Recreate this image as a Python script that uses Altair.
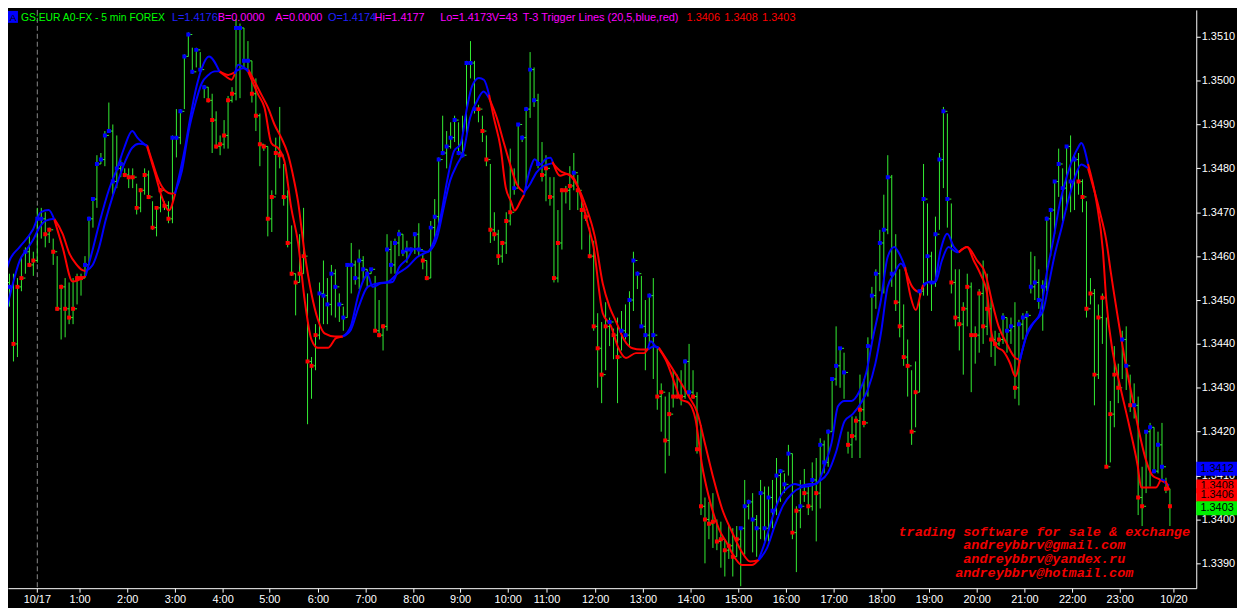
import altair as alt
import pandas as pd
from bisect import bisect_right

BASE = 1.3390  # all *_pips values are pips above 1.3390

# ---------------- OHLC bars (5 min), pips above 1.3390 ----------------
high_pips = [79, 67.5, 66, 66, 65, 70, 72, 75, 71, 81,
             81, 80, 76.5, 74, 70, 63.5, 65, 64, 65, 66,
             66, 70, 79, 83, 93, 93.5, 98.5, 105, 100, 97.5,
             92, 90, 90, 90, 86.5, 85.5, 90, 89.5, 82.5, 81,
             85.5, 82.5, 82.5, 97.5, 103.5, 103.5, 116, 121, 117.5, 117.5,
             116.5, 109, 108.5, 107, 103, 97.5, 101, 106.5, 108.5, 124,
             123, 122, 119, 114.5, 110.5, 102.5, 95.5, 95, 85, 97,
             104, 91, 85, 77, 66, 75, 81, 61.5, 47, 54.5,
             64, 69, 65, 68, 67, 61.5, 58.5, 68, 73, 69,
             71.5, 70, 67, 67, 65.5, 60, 54.5, 75, 73.5, 74,
             76, 75, 73.5, 72, 75.5, 77.5, 70.5, 69, 78, 83,
             92.5, 102, 98.5, 100.5, 102, 100.5, 102, 114.5, 119, 114.5,
             104.5, 102, 97.5, 91, 80, 76, 73.5, 80, 94.5, 90,
             100, 97.5, 104, 116.5, 113, 107, 96, 93, 88, 88,
             80.5, 85.5, 86, 90.5, 93.5, 88.5, 82.5, 80, 76.5, 73.5,
             57, 55, 59.5, 56, 53.5, 56, 57.5, 59, 62, 71,
             66.5, 65.5, 60, 61.5, 65, 49.5, 41, 38, 39, 44,
             43, 44, 46.5, 50, 44, 39, 31.5, 15, 14, 16,
             10, 9.5, 5.5, 8.5, 8, 8.5, 8, 19, 14.5, 16,
             11, 19, 17.5, 17.5, 19, 24, 21.5, 20.5, 27, 25,
             13, 19, 21.5, 17.5, 23, 24, 28.5, 28, 30.5, 42,
             54, 49, 48, 30, 33.5, 33.5, 43, 42, 51.5, 63,
             67, 76, 84, 93, 88.5, 75, 67, 59, 51, 44,
             46, 62, 91, 82, 71, 79, 93.5, 104, 102.5, 82,
             67, 67, 59.5, 66, 64, 54, 62.5, 69, 66, 60.5,
             53, 52.5, 57, 56, 56, 59.5, 55.5, 57, 57.5, 71,
             70, 67, 64.5, 79, 81, 87, 94.5, 90, 95, 97.5,
             93, 93.5, 87.5, 82.5, 65, 62.5, 59, 61.5, 56, 37,
             49.5, 45.5, 53, 54, 43, 41, 38, 22, 30, 32,
             31, 30, 32, 19.5, 17]

low_pips = [66, 62.5, 58.5, 46, 47, 62, 66, 67.5, 65.5, 68.5,
            74, 72, 73, 68, 57.5, 51, 51.5, 54.5, 54.5, 59,
            61, 65, 68, 76.5, 81, 91, 90.5, 98.5, 84, 85.5,
            88, 88, 85.5, 85.5, 79.5, 80, 84, 83, 76, 74.5,
            80, 80.5, 77.5, 77.5, 92.5, 95.5, 103.5, 115.5, 111.5, 113,
            112, 106, 105, 93.5, 94.5, 93, 94.5, 94.5, 105, 105.5,
            106, 113, 112.5, 105, 98.5, 90.5, 94, 74.5, 75.5, 84,
            90, 81.5, 72, 65.5, 56.5, 64, 66, 31.7, 37.5, 44,
            51, 54.5, 54.5, 56.5, 56, 55, 53, 56, 61.5, 63.5,
            62.5, 64.5, 63, 66, 53, 51.5, 48.5, 53, 66, 66,
            70, 70, 68.5, 71, 70.5, 70, 67, 64.5, 65, 73.5,
            76, 93, 90, 94.5, 96, 93, 92.5, 96.5, 110.5, 102.5,
            100.5, 96, 90.5, 73, 73.5, 68, 68.5, 70.5, 77, 84,
            85.5, 96, 85, 101.5, 104, 90, 87, 82.5, 81.5, 64,
            64, 71.5, 82, 80.5, 85, 80.5, 71.5, 78, 69.5, 53,
            40, 36.5, 44, 49.5, 46.5, 36.5, 48.5, 51, 49.5, 57.5,
            62.5, 54, 44, 50, 42, 35, 30, 20.5, 24.5, 35.5,
            37.5, 36, 37.5, 38, 37.5, 25, 11, 0, 5.5, 3.5,
            3, -1, -3, 1, -3, 1.5, -5.2, 2, 10, 2.5,
            1.5, 5.5, 5, 5, 8, 11, 14, 16, 20, 5.5,
            -2, 8, 14, 11, 12, 5, 12.5, 20.5, 22, 30,
            40.5, 40, 37.5, 25, 24, 28, 24, 31, 38, 51,
            58, 62, 61.5, 75, 63, 57.5, 51.5, 45, 38, 27,
            31, 39, 61, 61, 57.5, 63, 76, 85.5, 76.5, 61.5,
            54, 48.5, 43, 54, 39, 45.5, 48, 50, 52, 47,
            45, 49.5, 50, 48, 50, 37.5, 36, 51, 52, 61.5,
            60, 58, 53, 62, 70, 75, 83.5, 78, 80.5, 80,
            80.5, 84, 80, 56, 59, 36, 42, 50, 22, 23,
            31, 36.5, 42, 39.5, 34.5, 33, 11, 8.5, 16, 17.5,
            20.5, 20.5, 19, 16, 8.5]

close_pips = [66, 64, 63, 50, 63, 65, 71, 68, 69, 78.5,
              78.5, 75, 76, 71, 58, 63, 58, 56, 58, 65,
              65, 68, 78.5, 83, 91, 92, 97.5, 98.5, 87, 90,
              91, 88.5, 88, 88, 81, 85, 88.5, 83.5, 76.5, 81,
              85, 81.5, 78.5, 97, 97, 103, 115.5, 120.5, 112, 117,
              112.5, 108.5, 105.5, 101, 95, 95.5, 97.5, 105.5, 107, 122,
              122, 114.5, 114.5, 107, 102, 95.5, 95, 78.5, 83.5, 93.5,
              93, 83.5, 73, 66, 64, 66, 70, 46, 45, 52,
              61.5, 61, 59, 66, 63, 59, 56, 68, 68, 65,
              69, 67, 66, 67, 53, 52, 54, 71.5, 68, 73,
              75, 71, 71.5, 71.5, 75, 71.5, 69, 65, 76.5, 79,
              92, 93.5, 95, 97, 101, 93.5, 93, 114, 114, 103.5,
              103.5, 98.5, 92, 76, 75, 70, 73, 78, 80, 85.5,
              100, 97, 103.5, 112.5, 105.5, 91, 88.5, 90, 83.5, 65,
              73, 85, 85, 86, 89, 85, 80.5, 79, 70, 54,
              49, 43, 54, 55, 52, 47, 53, 52, 60, 69,
              66, 54, 52, 61, 52, 38, 39, 28, 34, 38,
              38, 38, 46, 39, 38, 26, 13, 10, 9, 9.5,
              5, 5.5, 3, 4, 1.5, 5.5, 8, 13, 14, 10,
              8, 16, 8, 15, 12, 20, 21, 18, 25, 7,
              12, 13, 16, 13, 19, 16, 27, 23, 30, 42,
              45, 49, 43.5, 27, 29, 32.5, 35, 32, 49.5, 61,
              66, 73, 76, 88, 66, 59.5, 54, 47, 45, 30,
              39, 62, 83, 70, 64, 75, 92, 103, 83, 64,
              56, 54.5, 58, 63, 52, 52, 61.5, 54, 58, 51,
              50, 51, 56, 53, 54, 40, 54.5, 56, 56.5, 63,
              64, 60, 63, 78.5, 80.5, 87, 91, 85.5, 95, 87,
              92, 87, 83.5, 58, 61.5, 43, 56, 60.5, 22, 34,
              43, 40, 51, 45, 36, 36, 15, 13, 30, 31,
              21, 27, 22, 17, 13]

# colour of the close marker on each bar (b = blue, r = red)
marker_colors = ("bbb" "rrr" "b" "rr" "bb" "rrrrrrrrrr" "bbbbbbbbbb" "rrrrrrrrrrrr"
                 "bbbbbbbbb" "rrrrrrr" "bbbb" "rrrrrrrrrrrrrrrrr" "bbbbbbbbbbbbbb" "rrr"
                 "bbbbbbbbb" "rr" "bbbbbbbbbbbb" "rrrrrrrrr" "bbbbbbb" "rrrrrrrr" "b"
                 "rrrrrrrr" "b" "rr" "bbbbbbbbb" "rrrrrrr" "bb" "rrrrrrrrrrrr"
                 "bbbbbbbbbbbbb" "rr" "b" "rr" "b" "r" "bbbbbbb" "rrrrr" "bbbbbbb"
                 "rrrrrr" "bbbbbbbb" "rrrrrrrrrrrrr" "bbb" "r" "bbbbbbbbbbbbbbb"
                 "rrrrrrrrrrr" "bb" "r" "b" "rr" "bbbbb" "rr")

# ---------------- T-3 trigger lines (bar index, pips above 1.3390) ----------------
fast_idx = [0, 2, 4.7, 8, 10, 12, 13.4, 15.5, 18, 21.3,
            23, 24.7, 27.2, 29.3, 31, 33, 34.3, 36.75, 38.8, 40.5,
            42.2, 43.8, 46.3, 47.6, 49.2, 50.5, 52.3, 55, 56.5, 58,
            58.8, 59.7, 61.3, 62.2, 64.7, 66.3, 68, 70, 71.3, 73,
            74.75, 76.4, 78.1, 79.75, 82.25, 84.3, 86, 88, 90, 92.25,
            93.5, 95.6, 98.5, 100.2, 102.25, 104, 105.6, 107.25, 109, 110.6,
            112.25, 114, 115.6, 117.25, 118.5, 120.25, 121.5, 122.8, 124, 125.7,
            127, 128.25, 129.25, 130.75, 131.6, 133.25, 134.25, 135.75, 137, 138.25,
            138.8, 140.7, 142.25, 144, 145.75, 147.4, 149.1, 151.4, 153.5, 155.2,
            157.25, 159.75, 161.8, 162.8, 163.5, 164.75, 165.5, 167.25, 169.75, 171,
            173, 174.75, 176.4, 178, 180.6, 182.7, 184.75, 186.4, 188.9, 190.6,
            192.25, 194.3, 196, 198, 199.75, 201.4, 203.5, 205.2, 207.25, 209,
            210.6, 212.25, 214, 216, 217.7, 219.3, 221.4, 223.1, 224.75, 226,
            227.5, 228.9, 230.2, 231.4, 232, 233.5, 234.75, 236.4, 238.1, 239.75,
            241, 243.1, 244.75, 246.4, 248.1, 249.25, 250.5, 252.25, 253.9, 255.2,
            256.4, 258, 259.75, 261.4, 263.1, 264.75, 266.4, 268.1, 269.75, 271,
            271.8, 273.5, 275.6, 277.25, 278.1, 279.75, 281.4, 283.9, 286, 286.9,
            290.6, 291.8, 293, 294]
fast_pips = [61, 68.7, 72.1, 76, 80, 80.5, 78.3, 72, 64.2, 65.5,
             71.3, 77.4, 85.3, 90.2, 94.7, 98.5, 97, 95, 88.7, 83.4,
             80.4, 84.2, 94.7, 101.5, 108.7, 112.8, 115.5, 112, 111, 110.2,
             111.5, 113.6, 112.8, 112, 106.8, 103.8, 95.8, 94.3, 91.7, 81.1,
             73, 60, 51, 49.1, 49.1, 51.3, 51.7, 54, 61.5, 65.7,
             63, 63.8, 64.1, 67.5, 69.4, 71.7, 71.3, 71, 73.6, 78.9,
             87.2, 94, 95.5, 103.8, 108.7, 110.6, 110.2, 106.8, 101.5, 94.7,
             85.6, 82.6, 80.4, 82.6, 84, 90.2, 92.1, 90.9, 92.1, 92.4,
             91.5, 88.3, 88.7, 87.9, 84.1, 78.1, 72, 57, 54, 49.4,
             46.8, 47.9, 47.9, 49, 50.6, 49.4, 49, 46.4, 40.4, 37.4,
             36.6, 32.8, 22.3, 15.5, 7.9, 4.5, 1.1, -0.4, -0.4, 0.8,
             4.9, 11, 15.1, 17.3, 18.1, 17.7, 18.1, 18.1, 22.3, 27.5,
             35.8, 37, 37, 39.2, 43.4, 51, 60, 69.8, 72.1, 70.6,
             67.5, 60.7, 57.7, 61.5, 63.5, 64.1, 63.8, 71.3, 75.1, 72.1,
             70.9, 72.1, 69, 66, 61.5, 52.4, 49.4, 48.3, 45.6, 42.6,
             46.4, 51.7, 54.7, 57, 66, 73.6, 81.9, 87.9, 92.4, 94.7,
             95.8, 91, 82.6, 71.3, 60, 48, 41.1, 31.3, 22.3, 17.3,
             17.3, 19.2, 18.8, 16.6]

slow_idx = [0, 1.3, 3, 4.7, 6.3, 8, 9.7, 11.3, 13.4, 15.5,
            17.2, 18.8, 20.5, 21.3, 23, 24.7, 26.3, 28, 29.7, 31.3,
            33, 34.7, 36.75, 38, 39.7, 41.3, 43, 43.8, 45.5, 47.2,
            48.8, 50.5, 52.2, 53.8, 55, 57.2, 58.8, 60.9, 62.2, 63.8,
            65.5, 67.2, 68.8, 70.5, 72.2, 73.4, 74.75, 76.4, 78.1, 79.75,
            81.4, 84, 86, 88, 90, 92.25, 94.75, 97.25, 99.75, 102.25,
            104.75, 106.4, 108, 109.75, 111.4, 113, 114.75, 116.4, 118, 119.75,
            121.4, 122.8, 124.75, 126.4, 128.1, 129.75, 131.6, 133.1, 134.75, 136.75,
            138.8, 140.7, 143.25, 145.25, 147.25, 149.4, 151.4, 153.1, 154.75, 156.8,
            158.9, 161, 162.8, 164.3, 165.5, 168, 170.6, 173, 175.2, 177.25,
            179.3, 181.4, 183.9, 186.4, 188.5, 190.6, 192.7, 194.75, 196.8, 198.9,
            201.4, 203.9, 205.6, 208.1, 210.1, 212.25, 214.3, 216.4, 218.1, 220,
            221.4, 223.1, 224.75, 226.4, 227.5, 229.3, 231, 232, 233.5, 235.1,
            236.75, 238.4, 240.5, 241, 243.1, 245.6, 247.7, 249.25, 251, 253,
            255.2, 256.4, 258.5, 260.5, 262.25, 263.5, 265.2, 266.9, 268.5, 270.2,
            271.8, 273.5, 276.4, 278.1, 279.3, 281.4, 283.1, 284.75, 286.4, 288,
            289.75, 291.4, 292.7, 293.9]
slow_pips = [48.7, 57, 63.8, 69, 71.3, 73.6, 76.6, 78.1, 78.5, 75.1,
             70.6, 68.3, 66.8, 66.6, 67.9, 72.1, 78.1, 83.4, 87.9, 91.7,
             94.7, 95.6, 95.3, 91.7, 87.2, 84.9, 84.2, 84.5, 89.4, 98.5,
             104.5, 109.4, 111.3, 112.1, 112.1, 111.3, 111.9, 112.8, 112.5, 109.8,
             106.8, 103.8, 100, 97, 93.2, 88.7, 82.3, 70.6, 61.5, 55.5,
             52.4, 51.7, 51.7, 53.2, 58.5, 63, 63.8, 64.1, 66, 67.5,
             69.8, 70.6, 71.3, 74.3, 81.1, 87.2, 90.9, 94, 101.5, 105.3,
             107.5, 106, 101.5, 96.2, 90.9, 86.4, 84.5, 86.4, 89.1, 90.6,
             91.2, 89.4, 88.3, 85.6, 81.1, 74.5, 63.8, 58.5, 55.1, 50.9,
             49, 48.7, 48.7, 49.4, 49.2, 45.7, 41.9, 38.1, 34.3, 26.8,
             19.2, 12.5, 7.2, 2.6, 0.4, 0.7, 3.4, 8.7, 13.2, 15.8,
             17.3, 17.7, 18.5, 20.7, 25.3, 32.4, 34, 36.6, 39.6, 45.5,
             52.4, 63, 66, 68.3, 67, 63, 61.9, 63, 64.1, 64.1,
             69, 72.1, 70.9, 70.9, 72.1, 69, 66, 60, 54, 50.2,
             46.8, 46.4, 53.2, 55.5, 57.7, 63, 70.6, 76.6, 82.6, 87.9,
             90.9, 90, 80.4, 73.6, 66, 53.9, 44.9, 37.3, 29.8, 23.8,
             20, 19.2, 18.5, 17.7]

# bar index where the trigger colour flips (starts blue, alternates blue/red)
trend_switch = [13.4, 21.3, 36.75, 43.8, 55, 58.8, 62.2, 86, 122.8, 131.6, 138.8,
                162.8, 165.5, 190.6, 227.5, 232, 241, 256.4, 273.5, 291.8, 293]

# ---------------- axes text ----------------
tick_idx = [9, 19.75, 31.75, 43.75, 55.75, 67.5, 79.75, 91.75, 103.75, 115.5, 127.5,
            137.25, 149.5, 161.5, 173.5, 185.5, 197.5, 209.5, 221.5, 233.5, 245.5,
            257.5, 269.5, 281.5, 295]
tick_labels = ["10/17", "1:00", "2:00", "3:00", "4:00", "5:00", "6:00", "7:00", "8:00",
               "9:00", "10:00", "11:00", "12:00", "13:00", "14:00", "15:00", "16:00",
               "17:00", "18:00", "19:00", "20:00", "21:00", "22:00", "23:00", "10/20"]
price_ticks = [round(1.3390 + 0.001 * k, 4) for k in range(13)]

last_boxes = [("1.3408", 1.3408, "#ff0000"), ("1.3406", 1.3406, "#ff0000"),
              ("1.3403", 1.3403, "#00f000"), ("1.3412", 1.3412, "#0000ff")]

header = [("GS:EUR A0-FX - 5 min FOREX", "#00ff00"), ("L=1.4176", "#2020ff"),
          ("B=0.0000", "#ff00ff"), ("A=0.0000", "#ff00ff"), ("O=1.4174", "#2020ff"),
          ("Hi=1.4177", "#ff00ff"), ("Lo=1.4173", "#ff00ff"), ("V=43", "#ff00ff"),
          ("T-3 Trigger Lines (20,5,blue,red)", "#ff00ff"), ("1.3406", "#ff0000"),
          ("1.3408", "#ff0000"), ("1.3403", "#ff0000")]
header_x = [13, 165, 211, 269, 322, 369, 435, 487, 518, 683, 721, 759]
header_size = [10.4, 11, 11, 11, 11, 11, 11, 11, 11, 11, 11, 11]

ad_lines = ["trading software for sale & exchange", "andreybbrv@gmail.com",
            "andreybbrv@yandex.ru", "andreybbrv@hotmail.com"]

# ---------------- build tables ----------------
n = len(close_pips)
bars = pd.DataFrame({
    "i": list(range(n)),
    "high": [BASE + v / 1e4 for v in high_pips[:n]],
    "low": [BASE + v / 1e4 for v in low_pips[:n]],
    "close": [BASE + v / 1e4 for v in close_pips],
    "open": [BASE + v / 1e4 for v in [close_pips[0]] + close_pips[:-1]],
    "c": [marker_colors[k] if k < len(marker_colors) else "r" for k in range(n)],
})


def line_rows(name, xs, ys):
    rows = []
    segs = [bisect_right(trend_switch, x) for x in xs]
    for k, (x, y, s) in enumerate(zip(xs, ys, segs)):
        col = "b" if s % 2 == 0 else "r"
        rows.append({"key": f"{name}{s}", "c": col, "i": x, "p": BASE + y / 1e4})
        if k + 1 < len(xs) and segs[k + 1] != s:
            rows.append({"key": f"{name}{s}", "c": col, "i": xs[k + 1],
                         "p": BASE + ys[k + 1] / 1e4})
    return rows


lines = pd.DataFrame(line_rows("slow", slow_idx, slow_pips) +
                     line_rows("fast", fast_idx, fast_pips))

# ---------------- scales / axes ----------------
W, H = 1196, 582
xscale = alt.Scale(domain=[1.75, 300.75], nice=False, zero=False)
yscale = alt.Scale(domain=[1.338434, 1.351610], nice=False, zero=False)

label_expr = ("[" + ",".join("'%s'" % t for t in tick_labels) + "][indexof([" +
              ",".join(str(v) for v in tick_idx) + "], datum.value)]")
xaxis = alt.Axis(values=tick_idx, labelExpr=label_expr, title=None, grid=False,
                 domainColor="white", domainWidth=1, tickColor="white", tickSize=4,
                 labelColor="white", labelFont="Liberation Sans", labelFontSize=11,
                 labelPadding=1, labelFlush=False, labelOverlap=False)
yaxis = alt.Axis(orient="right", values=price_ticks, format=".4f", title=None,
                 grid=False, domainColor="white", domainWidth=1, tickColor="white",
                 tickSize=4, labelColor="white", labelFont="Liberation Sans",
                 labelFontSize=11, labelPadding=1, labelFlush=False,
                 labelOverlap=False, labelBound=False)


def X(f):
    return alt.X(f, type="quantitative", scale=xscale, axis=xaxis)


def Y(f):
    return alt.Y(f, type="quantitative", scale=yscale, axis=yaxis)


GREEN = "#33ee33"
cscale = alt.Scale(domain=["b", "r"], range=["#0000ff", "#ff0000"])

day_sep = alt.Chart(pd.DataFrame({"i": [9]})).mark_rule(
    color="#8a8a8a", strokeDash=[5, 3], strokeWidth=1, xOffset=0.5).encode(x=X("i"))

bar_rules = alt.Chart(bars).mark_rule(color=GREEN, strokeWidth=1, clip=True,
                                      xOffset=0.5).encode(
    x=X("i"), y=Y("low"), y2="high")
open_ticks = alt.Chart(bars).mark_rule(color=GREEN, strokeWidth=1, clip=True,
                                       xOffset=-1.5, x2Offset=0.5).encode(
    x=X("i"), x2="i", y=Y("open"))
close_ticks = alt.Chart(bars).mark_rule(color=GREEN, strokeWidth=1, clip=True,
                                        xOffset=0.5, x2Offset=2.5).encode(
    x=X("i"), x2="i", y=Y("close"))

trig = alt.Chart(lines).mark_line(strokeWidth=2, interpolate="monotone", clip=True).encode(
    x=X("i"), y=Y("p"), color=alt.Color("c:N", scale=cscale, legend=None),
    detail="key:N")

marks = alt.Chart(bars).mark_square(size=16, opacity=1, clip=True, xOffset=0.5).encode(
    x=X("i"), y=Y("close"), color=alt.Color("c:N", scale=cscale, legend=None))

# last-value boxes at the right edge
box_layers = []
for lab, v, col in last_boxes:
    d = pd.DataFrame({"v": [v], "t": [lab]})
    box_layers.append(alt.Chart(d).mark_rect(color=col, yOffset=-5, y2Offset=9).encode(
        x=alt.value(W), x2=alt.value(W + 41), y=Y("v"), y2="v"))
    box_layers.append(alt.Chart(d).mark_text(
        color="black", font="Liberation Sans", fontSize=11, align="center",
        baseline="middle", yOffset=2).encode(x=alt.value(W + 21), y=Y("v"), text="t:N"))

# header line
head_layers = [
    alt.Chart(pd.DataFrame({"t": ["A"]})).mark_rect(color="#0000ff").encode(
        x=alt.value(0), x2=alt.value(10), y=alt.value(1), y2=alt.value(13)),
    alt.Chart(pd.DataFrame({"t": ["A"]})).mark_text(
        color="black", font="Liberation Sans", fontSize=10, align="center",
        baseline="alphabetic").encode(x=alt.value(5), y=alt.value(11), text="t:N"),
]
for (txt, col), px, fs in zip(header, header_x, header_size):
    head_layers.append(alt.Chart(pd.DataFrame({"t": [txt]})).mark_text(
        color=col, font="Liberation Sans", fontSize=fs, align="left",
        baseline="alphabetic").encode(x=alt.value(px), y=alt.value(11), text="t:N"))

ad_layers = []
for k, txt in enumerate(ad_lines):
    ad_layers.append(alt.Chart(pd.DataFrame({"t": [txt]})).mark_text(
        color="#f00000", font="Liberation Mono", fontSize=13.6, fontStyle="italic",
        fontWeight="bold", align="center", baseline="alphabetic").encode(
        x=alt.value(1043), y=alt.value(529 + 14 * k), text="t:N"))

chart = alt.layer(
    day_sep, bar_rules, open_ticks, close_ticks, trig, marks,
    *box_layers, *head_layers, *ad_layers
).properties(
    width=W, height=H,
    autosize=alt.AutoSizeParams(type="none"),
    padding={"left": 0, "top": 0, "right": 41, "bottom": 18},
    background="black",
).configure_view(stroke=None)

chart.save("out.html", embed_options={"renderer": "svg", "actions": False})
